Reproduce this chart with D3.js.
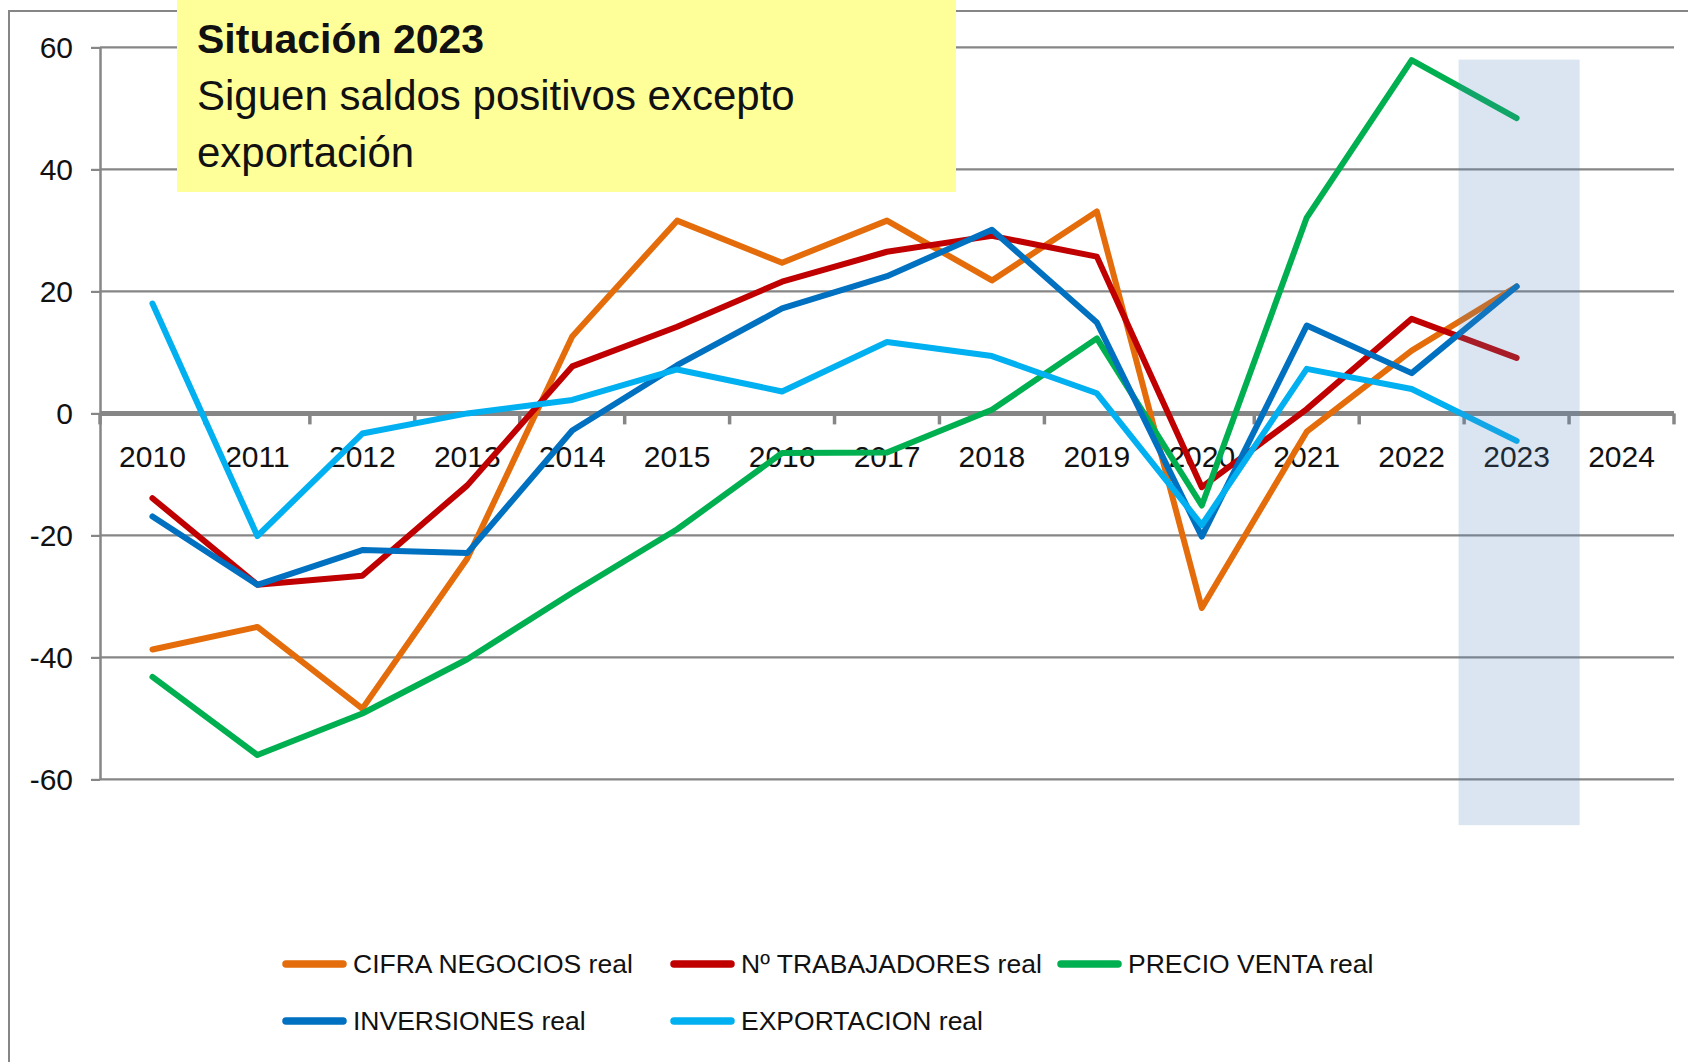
<!DOCTYPE html>
<html>
<head>
<meta charset="utf-8">
<script src="https://cdn.jsdelivr.net/npm/d3@7/dist/d3.min.js"></script>
<style>
    body { margin: 0; background: #fff; }
    svg text { font-family: "Liberation Sans", Arial, sans-serif; fill: #111; }
</style>
</head>
<body>
<div id="chart"></div>
<script>
// categories on the x axis (2024 is an empty slot)
var years = [2010, 2011, 2012, 2013, 2014, 2015, 2016, 2017, 2018, 2019, 2020, 2021, 2022, 2023, 2024];
var dataYears = [2010, 2011, 2012, 2013, 2014, 2015, 2016, 2017, 2018, 2019, 2020, 2021, 2022, 2023];
var yTicks = [-60, -40, -20, 0, 20, 40, 60];

// series values (saldos)
var cifraNegocios = [-38.7, -35.0, -48.4, -23.8, 12.6, 31.6, 24.7, 31.6, 21.8, 33.1, -31.9, -3.0, 10.3, 20.8];
var trabajadores = [-13.9, -28.1, -26.6, -11.8, 7.7, 14.2, 21.6, 26.5, 29.1, 25.7, -12.1, 0.7, 15.5, 9.1];
var precioVenta = [-43.2, -56.0, -49.2, -40.3, -29.4, -19.0, -6.5, -6.4, 0.6, 12.3, -15.1, 32.1, 57.9, 48.4];
var inversiones = [-16.9, -28.1, -22.4, -22.9, -2.8, 7.9, 17.2, 22.5, 30.1, 14.9, -20.2, 14.4, 6.6, 20.8];
var exportacion = [18.0, -20.1, -3.3, 0.0, 2.2, 7.2, 3.6, 11.7, 9.4, 3.3, -18.3, 7.3, 4.0, -4.5];

var seriesNames = ["CIFRA NEGOCIOS real", "Nº TRABAJADORES real", "PRECIO VENTA real", "INVERSIONES real", "EXPORTACION real"];
var seriesValues = [cifraNegocios, trabajadores, precioVenta, inversiones, exportacion];
var seriesColors = ["#E46C0A", "#C00000", "#00B050", "#0070C0", "#00B0F0"];

// highlighted year
var highlightYear = 2023;
var highlightTop = 58;
var highlightBottom = -67.5;

var titleLines = ["Situación 2023", "Siguen saldos positivos excepto", "exportación"];

var width = 1688, height = 1062;
var gridColor = "#868686";

var svg = d3.select("#chart").append("svg")
    .attr("width", width)
    .attr("height", height);

var x = d3.scaleBand()
    .domain(years)
    .range([100, 1674])
    .padding(0);

var y = d3.scaleLinear()
    .domain([-60, 60])
    .range([779.4, 47.4]);

function cx(yr) {
    return x(yr) + x.bandwidth() / 2;
}

// outer frame (left + top)
svg.append("path")
    .attr("d", "M9," + height + "V11H" + width)
    .attr("fill", "none")
    .attr("stroke", gridColor)
    .attr("stroke-width", 2);

// gridlines
svg.append("g")
    .selectAll("line")
    .data(yTicks.filter(function (d) { return d != 0; }))
    .enter()
    .append("line")
    .attr("x1", 100)
    .attr("x2", 1674)
    .attr("y1", function (d) { return y(d); })
    .attr("y2", function (d) { return y(d); })
    .attr("stroke", gridColor)
    .attr("stroke-width", 2.2);

// y axis (plain hyphen for negatives, like the original)
var yAxis = d3.axisLeft(y)
    .tickValues(yTicks)
    .tickFormat(function (d) { return String(d); })
    .tickSizeInner(9)
    .tickSizeOuter(0)
    .tickPadding(18);

var gY = svg.append("g")
    .attr("transform", "translate(100,0)")
    .call(yAxis);
gY.select(".domain").attr("stroke", gridColor).attr("stroke-width", 2.5);
gY.selectAll(".tick line").attr("stroke", gridColor).attr("stroke-width", 2.2);
gY.selectAll(".tick text").style("font-size", "30px").attr("fill", "#111");

// zero line with category ticks
svg.append("line")
    .attr("x1", 100)
    .attr("x2", 1674)
    .attr("y1", y(0))
    .attr("y2", y(0))
    .attr("stroke", gridColor)
    .attr("stroke-width", 5);

var boundaries = years.map(function (d) { return x(d); }).concat([x(years[years.length - 1]) + x.bandwidth()]);
svg.append("g")
    .selectAll("line")
    .data(boundaries)
    .enter()
    .append("line")
    .attr("x1", function (d) { return d; })
    .attr("x2", function (d) { return d; })
    .attr("y1", y(0))
    .attr("y2", y(0) + 11)
    .attr("stroke", gridColor)
    .attr("stroke-width", 3.5);

// x labels
var xAxis = d3.axisBottom(x)
    .tickSize(0)
    .tickPadding(32);
var gX = svg.append("g")
    .attr("transform", "translate(0," + y(0) + ")")
    .call(xAxis);
gX.select(".domain").remove();
gX.selectAll(".tick text").style("font-size", "30px").attr("fill", "#111");

// series lines
var line = d3.line()
    .x(function (d) { return cx(d.year); })
    .y(function (d) { return y(d.value); });

seriesValues.forEach(function (vals, i) {
    var pts = vals.map(function (v, j) { return { year: dataYears[j], value: v }; });
    svg.append("path")
        .datum(pts)
        .attr("d", line)
        .attr("fill", "none")
        .attr("stroke", seriesColors[i])
        .attr("stroke-width", 6)
        .attr("stroke-linejoin", "round")
        .attr("stroke-linecap", "round");
});

// highlight band on top
svg.append("rect")
    .attr("x", cx(highlightYear) - 58)
    .attr("width", 121)
    .attr("y", y(highlightTop))
    .attr("height", y(highlightBottom) - y(highlightTop))
    .attr("fill", "rgb(80,130,190)")
    .attr("fill-opacity", 0.21);

// title box
svg.append("rect")
    .attr("x", 177)
    .attr("y", 0)
    .attr("width", 779)
    .attr("height", 192)
    .attr("fill", "#FFFF99");

svg.append("text")
    .attr("x", 197)
    .attr("y", 53)
    .style("font-size", "41px")
    .style("font-weight", "bold")
    .text(titleLines[0]);

svg.append("text")
    .attr("x", 197)
    .attr("y", 110)
    .style("font-size", "42px")
    .text(titleLines[1]);

svg.append("text")
    .attr("x", 197)
    .attr("y", 167)
    .style("font-size", "42px")
    .text(titleLines[2]);

// legend
var legendCols = [282, 670, 1057];
var legendRows = [964, 1021];
var legend = svg.append("g");
seriesNames.forEach(function (name, i) {
    var col = i < 3 ? i : i - 3;
    var row = i < 3 ? 0 : 1;
    var lx = legendCols[col], ly = legendRows[row];
    legend.append("line")
        .attr("x1", lx + 4)
        .attr("x2", lx + 61)
        .attr("y1", ly)
        .attr("y2", ly)
        .attr("stroke", seriesColors[i])
        .attr("stroke-width", 7.5)
        .attr("stroke-linecap", "round");
    legend.append("text")
        .attr("x", lx + 71)
        .attr("y", ly)
        .attr("dy", "0.35em")
        .style("font-size", "26.5px")
        .text(name);
});
</script>
</body>
</html>
